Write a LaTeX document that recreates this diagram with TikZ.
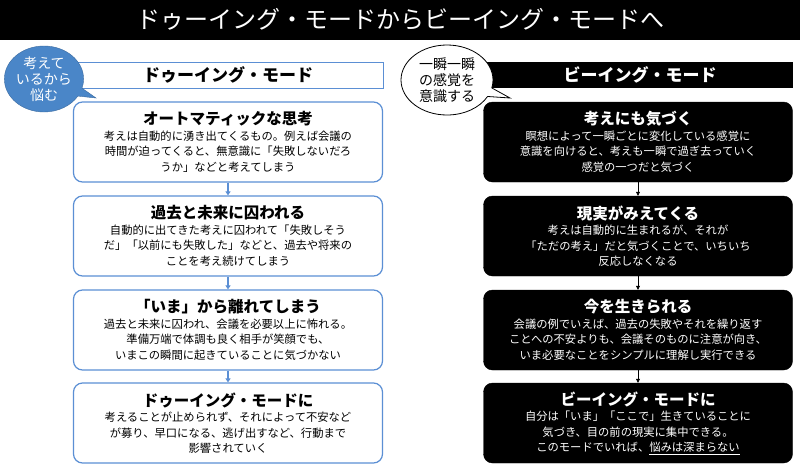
\documentclass[tikz,border=0pt]{standalone}
\usepackage{fontspec}
\setmainfont{Noto Sans CJK JP}
\usetikzlibrary{arrows.meta,shapes.callouts}
\definecolor{lblue}{HTML}{5B8FD4}
\definecolor{bfill}{HTML}{4A86C8}
\tikzset{
 lbox/.style={draw=lblue,line width=1.2pt,rounded corners=9pt,fill=white,minimum width=309pt,minimum height=80pt,align=center,inner sep=2pt,font=\fontsize{11.3}{15.5}\selectfont},
 rbox/.style={draw=black,fill=black,text=white,rounded corners=9pt,minimum width=309pt,minimum height=80pt,align=center,inner sep=2pt,font=\fontsize{11.3}{15.5}\selectfont},
 larr/.style={-{Triangle[length=4pt,width=5pt]},draw=lblue,line width=1.2pt},
 rarr/.style={-{Triangle[length=4pt,width=4pt]},draw=black,line width=0.6pt},
}
\newcommand{\hd}[1]{\fontsize{15.5}{19}\selectfont\bfseries #1\mdseries\fontsize{11.3}{15.5}\selectfont}
\begin{document}
\begin{tikzpicture}[x=1pt,y=-1pt]
\useasboundingbox (0,0) rectangle (800,469);
\fill[white] (0,0) rectangle (800,469);
\fill[black] (0,0) rectangle (800,40);
\node[text=white,font=\fontsize{24}{28}\selectfont] (title) at (400,19) {ドゥーイング・モードからビーイング・モードへ};
% left
\node[draw=lblue,line width=1pt,minimum width=311pt,minimum height=26pt,inner sep=0pt,font=\bfseries\fontsize{17}{20}\selectfont] (lh) at (228,75) {ドゥーイング・モード};
\node[lbox] (l1) at (228,142) {\hd{オートマティックな思考}\\考えは自動的に湧き出てくるもの。例えば会議の\\時間が迫ってくると、無意識に「失敗しないだろ\\うか」などと考えてしまう};
\node[lbox] (l2) at (228,236) {\hd{過去と未来に囚われる}\\自動的に出てきた考えに囚われて「失敗しそう\\だ」「以前にも失敗した」などと、過去や将来の\\ことを考え続けてしまう};
\node[lbox] (l3) at (228,330) {\hd{「いま」から離れてしまう}\\過去と未来に囚われ、会議を必要以上に怖れる。\\準備万端で体調も良く相手が笑顔でも、\\いまこの瞬間に起きていることに気づかない};
\node[lbox] (l4) at (228,423) {\hd{ドゥーイング・モードに}\\考えることが止められず、それによって不安など\\が募り、早口になる、逃げ出すなど、行動まで\\影響されていく};
\draw[larr] (l1) -- (l2);
\draw[larr] (l2) -- (l3);
\draw[larr] (l3) -- (l4);
\node[ellipse callout,fill=bfill,draw=bfill!80!black,minimum width=76pt,minimum height=66pt,callout absolute pointer={(96,98)},text=white,align=center,inner sep=0pt,font=\fontsize{14}{16}\selectfont] (lb) at (44,79) {考えて\\いるから\\悩む};
% right
\node[fill=black,minimum width=306pt,minimum height=26pt,inner sep=0pt,text=white,font=\bfseries\fontsize{17}{20}\selectfont] (rh) at (640,75) {ビーイング・モード};
\node[rbox] (r1) at (638,142) {\hd{考えにも気づく}\\瞑想によって一瞬ごとに変化している感覚に\\意識を向けると、考えも一瞬で過ぎ去っていく\\感覚の一つだと気づく};
\node[rbox] (r2) at (638,236) {\hd{現実がみえてくる}\\考えは自動的に生まれるが、それが\\「ただの考え」だと気づくことで、いちいち\\反応しなくなる};
\node[rbox] (r3) at (638,330) {\hd{今を生きられる}\\会議の例でいえば、過去の失敗やそれを繰り返す\\ことへの不安よりも、会議そのものに注意が向き、\\いま必要なことをシンプルに理解し実行できる};
\node[rbox] (r4) at (638,423) {\hd{ビーイング・モードに}\\自分は「いま」「ここで」生きていることに\\気づき、目の前の現実に集中できる。\\このモードでいれば、\underline{悩みは深まらない}};
\draw[rarr] (r1) -- (r2);
\draw[rarr] (r2) -- (r3);
\draw[rarr] (r3) -- (r4);
\node[ellipse callout,fill=white,draw=black,line width=0.8pt,minimum width=92pt,minimum height=70pt,callout absolute pointer={(510,98)},align=center,inner sep=0pt,font=\fontsize{14}{16}\selectfont] (rb) at (447,80) {一瞬一瞬\\の感覚を\\意識する};
\end{tikzpicture}
\end{document}
